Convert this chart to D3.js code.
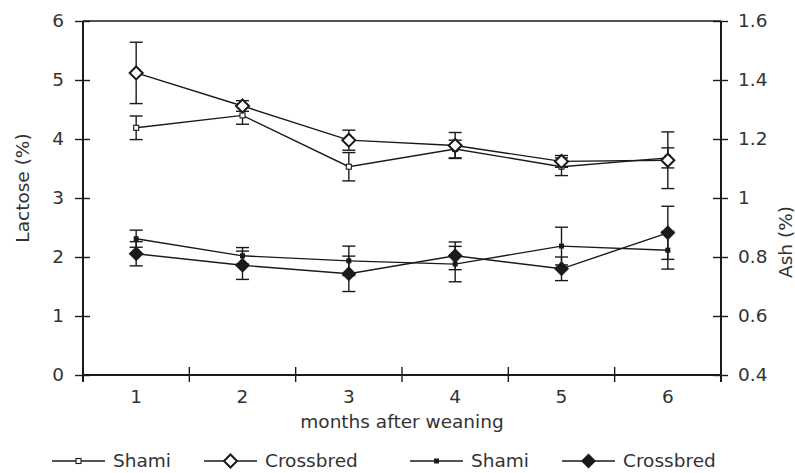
<!DOCTYPE html>
<html>
<head>
<meta charset="utf-8">
<script src="https://cdn.jsdelivr.net/npm/d3@7"></script>
<style>
  html, body { margin: 0; padding: 0; background: #fff; }
  svg text { font-family: "DejaVu Sans", Verdana, sans-serif; fill: #333; }
</style>
</head>
<body>
<svg id="chart" width="795" height="473"></svg>
<script>
(function () {
  'use strict';

  // ─── Data ─────────────────────────────────────────

  const months = [1, 2, 3, 4, 5, 6];

  const lactoseShami = [4.19, 4.40, 3.53, 3.83, 3.53, 3.68];
  const lactoseShamiErr = [0.20, 0.15, 0.24, 0.15, 0.15, 0.17];
  const lactoseCross = [5.12, 4.56, 3.98, 3.89, 3.62, 3.64];
  const lactoseCrossErr = [0.52, 0.09, 0.17, 0.22, 0.10, 0.48];

  const ashShami = [0.862, 0.804, 0.787, 0.776, 0.837, 0.823];
  const ashShamiErr = [0.029, 0.028, 0.05, 0.06, 0.064, 0.064];
  const ashCross = [0.811, 0.772, 0.743, 0.804, 0.760, 0.882];
  const ashCrossErr = [0.041, 0.048, 0.06, 0.047, 0.04, 0.09];

  const leftTicks = [0, 1, 2, 3, 4, 5, 6];
  const rightTicks = [0.4, 0.6, 0.8, 1, 1.2, 1.4, 1.6];

  // ─── Layout ───────────────────────────────────────

  const svg = d3.select('#chart');
  const left = 83, right = 721, top = 21, bottom = 375;
  const ink = '#1a1a1a';

  const x = d3.scaleBand().domain(months).range([left, right]).padding(0);
  const yL = d3.scaleLinear().domain([0, 6]).range([bottom, top]);
  const yR = d3.scaleLinear().domain([0.4, 1.6]).range([bottom, top]);
  const cx = function (m) { return x(m) + x.bandwidth() / 2; };

  // ─── Axes ─────────────────────────────────────────

  const gL = svg.append('g')
    .attr('transform', `translate(${left},0)`)
    .call(d3.axisLeft(yL).tickValues(leftTicks).tickFormat(d3.format('d'))
      .tickSize(8).tickPadding(11));
  gL.select('.domain').remove();
  gL.selectAll('.tick line').attr('x1', 7).attr('x2', -8)
    .attr('stroke', ink).attr('stroke-width', 1.4);
  gL.selectAll('.tick text').style('font-size', '18.5px');

  const gR = svg.append('g')
    .attr('transform', `translate(${right},0)`)
    .call(d3.axisRight(yR).tickValues(rightTicks).tickFormat(d3.format('~g'))
      .tickSize(8).tickPadding(9));
  gR.select('.domain').remove();
  gR.selectAll('.tick line').attr('x1', -8).attr('x2', 7)
    .attr('stroke', ink).attr('stroke-width', 1.4);
  gR.selectAll('.tick text').style('font-size', '18.5px');

  const gX = svg.append('g')
    .attr('transform', `translate(0,${bottom})`)
    .call(d3.axisBottom(x).tickSize(0).tickPadding(15));
  gX.select('.domain').remove();
  gX.selectAll('.tick text').style('font-size', '18.5px');

  // band boundaries as crossing ticks
  const edges = months.map(function (m) { return x(m); }).concat([x(months[months.length - 1]) + x.bandwidth()]);
  svg.append('g').selectAll('line').data(edges).join('line')
    .attr('x1', function (d) { return d; }).attr('x2', function (d) { return d; })
    .attr('y1', bottom - 8).attr('y2', bottom + 7)
    .attr('stroke', ink).attr('stroke-width', 1.4);

  // frame
  const frame = svg.append('g').attr('stroke', ink).attr('fill', 'none');
  frame.append('line').attr('x1', left).attr('x2', right).attr('y1', top).attr('y2', top).attr('stroke-width', 1.4);
  frame.append('line').attr('x1', left).attr('x2', right).attr('y1', bottom).attr('y2', bottom).attr('stroke-width', 2);
  frame.append('line').attr('x1', left).attr('x2', left).attr('y1', top).attr('y2', bottom + 7).attr('stroke-width', 2);
  frame.append('line').attr('x1', right).attr('x2', right).attr('y1', top).attr('y2', bottom + 7).attr('stroke-width', 2);

  // axis titles
  svg.append('text')
    .attr('transform', 'translate(29,188) rotate(-90)')
    .attr('text-anchor', 'middle')
    .style('font-size', '18.5px')
    .text('Lactose (%)');

  svg.append('text')
    .attr('transform', 'translate(792,242) rotate(-90)')
    .attr('text-anchor', 'middle')
    .style('font-size', '18.5px')
    .text('Ash (%)');

  svg.append('text')
    .attr('x', (left + right) / 2)
    .attr('y', 428)
    .attr('text-anchor', 'middle')
    .style('font-size', '18.5px')
    .text('months after weaning');

  // ─── Markers ──────────────────────────────────────

  function drawMarker(g, type, px, py) {
    if (type === 'openSquare') {
      g.append('rect').attr('x', px - 2.5).attr('y', py - 2.5).attr('width', 5).attr('height', 5)
        .attr('fill', '#fff').attr('stroke', ink).attr('stroke-width', 1.1);
    } else if (type === 'filledSquare') {
      g.append('rect').attr('x', px - 2.5).attr('y', py - 2.5).attr('width', 5).attr('height', 5)
        .attr('fill', ink);
    } else if (type === 'openDiamond') {
      g.append('path')
        .attr('d', `M${px},${py - 6.5}L${px + 6.5},${py}L${px},${py + 6.5}L${px - 6.5},${py}Z`)
        .attr('fill', '#fff').attr('stroke', ink).attr('stroke-width', 2);
    } else {
      g.append('path')
        .attr('d', `M${px},${py - 7.5}L${px + 7.5},${py}L${px},${py + 7.5}L${px - 7.5},${py}Z`)
        .attr('fill', ink);
    }
  }

  // ─── Series ───────────────────────────────────────

  const series = [
    { values: lactoseShami, errs: lactoseShamiErr, scale: yL, marker: 'openSquare' },
    { values: lactoseCross, errs: lactoseCrossErr, scale: yL, marker: 'openDiamond' },
    { values: ashShami, errs: ashShamiErr, scale: yR, marker: 'filledSquare' },
    { values: ashCross, errs: ashCrossErr, scale: yR, marker: 'filledDiamond' }
  ];

  const plot = svg.append('g');

  series.forEach(function (s) {
    const line = d3.line()
      .x(function (d, i) { return cx(months[i]); })
      .y(function (d) { return s.scale(d); });
    plot.append('path')
      .attr('d', line(s.values))
      .attr('fill', 'none')
      .attr('stroke', ink)
      .attr('stroke-width', 1.4);
  });

  series.forEach(function (s) {
    const g = plot.append('g').attr('stroke', ink).attr('stroke-width', 1.4);
    s.values.forEach(function (v, i) {
      const px = cx(months[i]);
      const hi = s.scale(v + s.errs[i]);
      const lo = s.scale(v - s.errs[i]);
      g.append('line').attr('x1', px).attr('x2', px).attr('y1', hi).attr('y2', lo);
      g.append('line').attr('x1', px - 6.5).attr('x2', px + 6.5).attr('y1', hi).attr('y2', hi);
      g.append('line').attr('x1', px - 6.5).attr('x2', px + 6.5).attr('y1', lo).attr('y2', lo);
    });
  });

  series.forEach(function (s) {
    s.values.forEach(function (v, i) {
      drawMarker(plot, s.marker, cx(months[i]), s.scale(v));
    });
  });

  // ─── Legend ───────────────────────────────────────

  const legendItems = [
    { label: 'Shami', marker: 'openSquare', x: 52 },
    { label: 'Crossbred', marker: 'openDiamond', x: 204 },
    { label: 'Shami', marker: 'filledSquare', x: 410 },
    { label: 'Crossbred', marker: 'filledDiamond', x: 562 }
  ];
  const legY = 461;
  const legend = svg.append('g');
  legendItems.forEach(function (item) {
    legend.append('line')
      .attr('x1', item.x).attr('x2', item.x + 53)
      .attr('y1', legY).attr('y2', legY)
      .attr('stroke', ink).attr('stroke-width', 1.4);
    drawMarker(legend, item.marker, item.x + 26.5, legY);
    legend.append('text')
      .attr('x', item.x + 61)
      .attr('y', legY)
      .attr('dy', '0.35em')
      .style('font-size', '18.5px')
      .text(item.label);
  });
})();
</script>
</body>
</html>
